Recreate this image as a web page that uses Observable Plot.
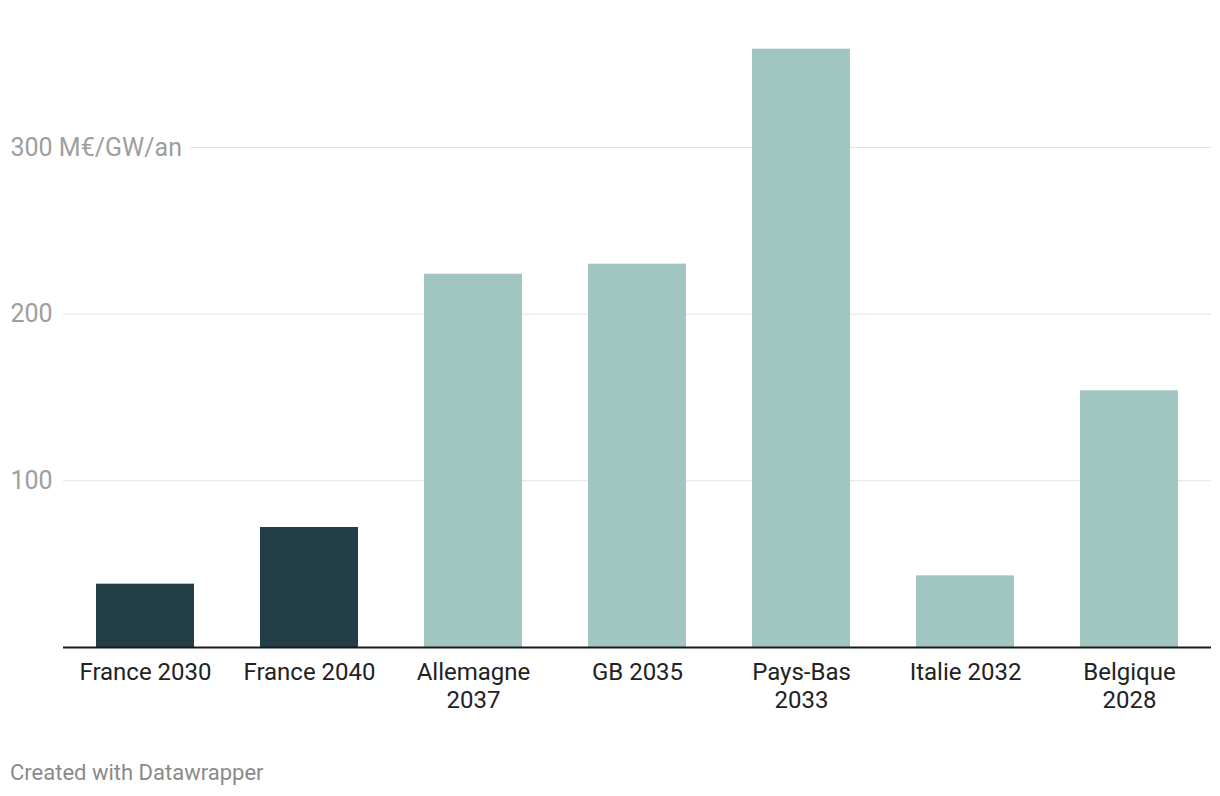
<!DOCTYPE html>
<html>
<head>
<meta charset="utf-8">
<script src="https://cdn.jsdelivr.net/npm/d3@7"></script>
<script src="https://cdn.jsdelivr.net/npm/@observablehq/plot@0.6"></script>
<style>
  html, body { margin: 0; padding: 0; background: #fff; }
  body { font-family: Roboto, "Noto Sans", sans-serif; width: 1220px; height: 796px; position: relative; }
  #footer { position: absolute; left: 10px; top: 762px; font-size: 22px; line-height: 22px; color: #8a8a8a; font-family: Roboto, sans-serif; }
</style>
</head>
<body>
<div id="chart"></div>
<div id="footer">Created with Datawrapper</div>
<script>
const categories = ["France 2030", "France 2040", "Allemagne\n2037", "GB 2035", "Pays-Bas\n2033", "Italie 2032", "Belgique\n2028"];
const values = [38, 72, 224, 230, 359, 43, 154];
const groups = ["France", "France", "Autres", "Autres", "Autres", "Autres", "Autres"];
const yTicks = [100, 200, 300];
const yTickLabels = ["100", "200", "300 M€/GW/an"];

const data = categories.map((c, i) => ({category: c, value: values[i], group: groups[i]}));

const plot = Plot.plot({
  width: 1220,
  height: 720,
  marginLeft: 63,
  marginRight: 9,
  marginTop: 47,
  marginBottom: 73,
  style: {fontFamily: "Roboto, sans-serif", background: "white", overflow: "visible"},
  x: {domain: categories, paddingInner: 0.4, paddingOuter: 0.2},
  y: {domain: [0, 360], axis: null},
  color: {domain: ["France", "Autres"], range: ["#223f47", "#a1c6c2"]},
  marks: [
    Plot.ruleY(yTicks.filter(d => d !== 300), {stroke: "#e2e2e2", strokeWidth: 1}),
    Plot.ruleY(yTicks.filter(d => d === 300), {stroke: "#e2e2e2", strokeWidth: 1, insetLeft: 127}),
    Plot.text(yTicks, {
      y: d => d,
      text: (d, i) => yTickLabels[i],
      frameAnchor: "left",
      textAnchor: "start",
      dx: -53,
      fill: "#9e9e9e",
      fontSize: 25
    }),
    Plot.barY(data, {x: "category", y: "value", fill: "group"}),
    Plot.ruleY([0], {stroke: "#1a1a1a", strokeWidth: 2}),
    Plot.axisX({
      tickSize: 0,
      tickPadding: 13,
      fontSize: 24,
      lineHeight: 1.15,
      fill: "#222",
      label: null
    })
  ]
});
document.getElementById("chart").appendChild(plot);
</script>
</body>
</html>
